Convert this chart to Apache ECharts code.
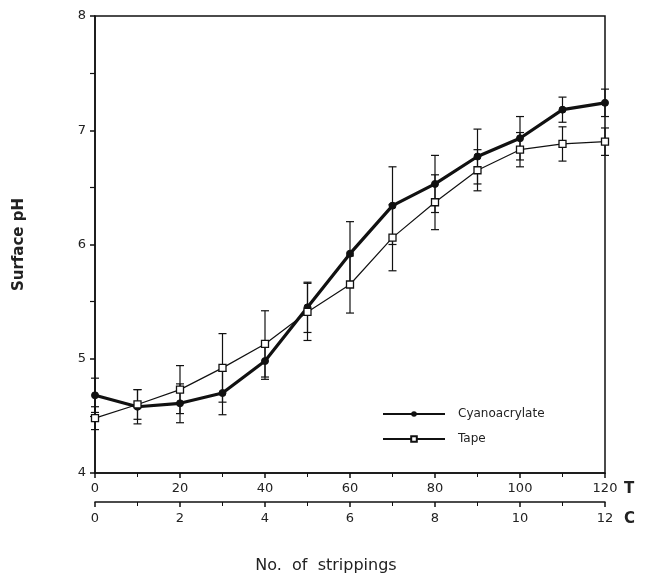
<!DOCTYPE html>
<html><head><meta charset="utf-8">
<script src="https://cdn.jsdelivr.net/npm/echarts@6/dist/echarts.min.js"></script>
<style>html,body{margin:0;padding:0;background:#fff}#c{width:652px;height:575px}</style>
</head><body><div id="c"></div>
<script>
const strippingsT = [0,10,20,30,40,50,60,70,80,90,100,110,120];
const cyanoMean = [4.68,4.58,4.61,4.70,4.98,5.45,5.92,6.34,6.53,6.77,6.93,7.18,7.24];
const cyanoErr  = [0.15,0.15,0.17,0.19,0.16,0.22,0.28,0.34,0.25,0.24,0.19,0.11,0.12];
const tapeMean  = [4.48,4.60,4.73,4.92,5.13,5.41,5.65,6.06,6.37,6.65,6.83,6.88,6.90];
const tapeErr   = [0.10,0.13,0.21,0.30,0.29,0.25,0.25,0.29,0.24,0.18,0.15,0.15,0.12];
const seriesNames = ['Cyanoacrylate','Tape'];

const font = 'DejaVu Sans';
const chart = echarts.init(document.getElementById('c'));

function errData(mean, err){ return strippingsT.map((x,i)=>[x, mean[i]-err[i], mean[i]+err[i]]); }
function errRender(params, api){
  const x = api.value(0);
  const lo = api.coord([x, api.value(1)]);
  const hi = api.coord([x, api.value(2)]);
  const hw = 4;
  const st = {stroke:'#111', lineWidth:1.2};
  return {type:'group', children:[
    {type:'line', shape:{x1:lo[0],y1:lo[1],x2:hi[0],y2:hi[1]}, style:st},
    {type:'line', shape:{x1:lo[0]-hw,y1:lo[1],x2:lo[0]+hw,y2:lo[1]}, style:st},
    {type:'line', shape:{x1:hi[0]-hw,y1:hi[1],x2:hi[0]+hw,y2:hi[1]}, style:st}
  ]};
}

const axisLbl = {color:'#222', fontFamily:font, fontSize:13};
chart.setOption({
  animation:false,
  grid:{left:95, right:47, top:16, bottom:102, show:true, borderColor:'#111', borderWidth:1.5, backgroundColor:'transparent'},
  legend:{
    orient:'vertical', left:377, top:403, itemWidth:62, itemHeight:7, itemGap:13,
    data:seriesNames,
    textStyle:{fontFamily:font, fontSize:12, color:'#222', padding:[0,0,0,8]}
  },
  title:{text:'No.  of  strippings', left:'center', top:553,
    textStyle:{fontFamily:font, fontSize:16, fontWeight:'normal', color:'#222'}},
  xAxis:[
    {type:'value', min:0, max:120, interval:20, position:'bottom',
     axisLine:{lineStyle:{color:'#111', width:1.5}},
     axisTick:{show:true, length:5, lineStyle:{color:'#111', width:1.5}},
     minorTick:{show:true, splitNumber:2, length:4, lineStyle:{color:'#111'}},
     splitLine:{show:false},
     axisLabel:Object.assign({margin:9}, axisLbl)},
    {type:'value', min:0, max:12, interval:2, position:'bottom', offset:29,
     axisLine:{lineStyle:{color:'#111', width:1.5}},
     axisTick:{show:true, length:5, lineStyle:{color:'#111', width:1.5}},
     minorTick:{show:true, splitNumber:2, length:4, lineStyle:{color:'#111'}},
     splitLine:{show:false},
     axisLabel:Object.assign({margin:10}, axisLbl)}
  ],
  yAxis:{type:'value', min:4, max:8, interval:1,
    axisLine:{show:true, lineStyle:{color:'#111', width:1.5}},
    axisTick:{show:true, length:5, lineStyle:{color:'#111', width:1.5}},
    minorTick:{show:true, splitNumber:2, length:5, lineStyle:{color:'#111', width:1.2}},
    splitLine:{show:false},
    axisLabel:Object.assign({margin:9}, axisLbl),
    name:'Surface pH', nameLocation:'middle', nameGap:68, nameRotate:90,
    nameTextStyle:{fontFamily:font, fontSize:15, fontWeight:'bold', color:'#222'}},
  graphic:[
    {type:'text', left:624, top:482, style:{text:'T', font:'bold 15px "DejaVu Sans"', fill:'#222'}},
    {type:'text', left:624, top:512, style:{text:'C', font:'bold 15px "DejaVu Sans"', fill:'#222'}}
  ],
  series:[
    {type:'custom', xAxisIndex:0, renderItem:errRender, data:errData(cyanoMean, cyanoErr), z:2, silent:true},
    {type:'custom', xAxisIndex:0, renderItem:errRender, data:errData(tapeMean, tapeErr), z:2, silent:true},
    {name:'Cyanoacrylate', type:'line', xAxisIndex:0,
     data:strippingsT.map((x,i)=>[x,cyanoMean[i]]),
     lineStyle:{color:'#111', width:3.2}, itemStyle:{color:'#111', borderColor:'#111'},
     symbol:'circle', symbolSize:7, z:4},
    {name:'Tape', type:'line', xAxisIndex:0,
     data:strippingsT.map((x,i)=>[x,tapeMean[i]]),
     lineStyle:{color:'#111', width:1.2}, itemStyle:{color:'#fff', borderColor:'#111', borderWidth:1.3},
     symbol:'rect', symbolSize:7, z:5}
  ]
});
</script></body></html>
